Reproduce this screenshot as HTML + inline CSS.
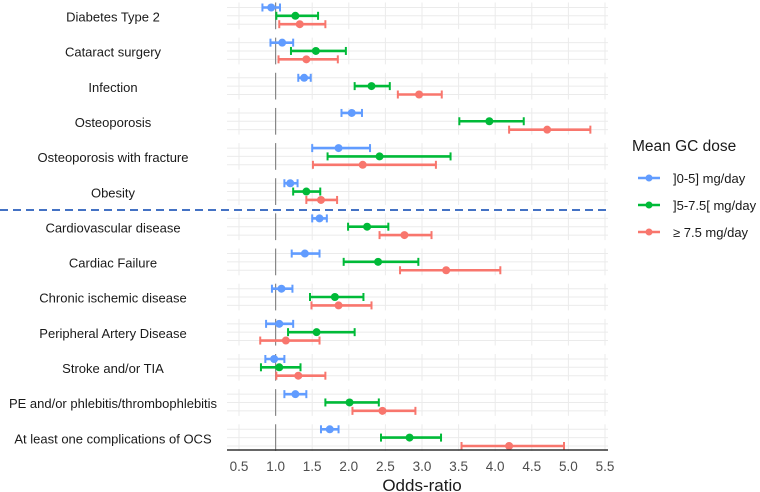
<!DOCTYPE html>
<html><head><meta charset="utf-8"><style>
body{margin:0;background:#fff;}
svg{display:block;font-family:"Liberation Sans",Arial,sans-serif;}
</style></head><body>
<svg id="chart" width="760" height="492" viewBox="0 0 760 492"></svg>
<script>
const categories=["Diabetes Type 2","Cataract surgery","Infection","Osteoporosis","Osteoporosis with fracture","Obesity","Cardiovascular disease","Cardiac Failure","Chronic ischemic disease","Peripheral Artery Disease","Stroke and/or TIA","PE and/or phlebitis/thrombophlebitis","At least one complications of OCS"];
const seriesNames=["]0-5] mg/day","]5-7.5[ mg/day","\u2265 7.5 mg/day"];
const bluePt=[0.94,1.09,1.39,2.04,1.86,1.20,1.60,1.40,1.08,1.05,0.98,1.27,1.74];
const blueLo=[0.82,0.93,1.31,1.90,1.50,1.12,1.50,1.22,0.95,0.87,0.86,1.12,1.62];
const blueHi=[1.06,1.24,1.48,2.18,2.29,1.30,1.70,1.60,1.23,1.24,1.12,1.42,1.86];
const greenPt=[1.27,1.55,2.31,3.92,2.42,1.42,2.25,2.40,1.81,1.56,1.05,2.01,2.83];
const greenLo=[1.01,1.21,2.08,3.51,1.71,1.24,1.99,1.93,1.47,1.17,0.80,1.68,2.44];
const greenHi=[1.58,1.96,2.56,4.39,3.39,1.61,2.54,2.95,2.20,2.08,1.34,2.41,3.26];
const redPt=[1.33,1.42,2.96,4.71,2.19,1.62,2.76,3.33,1.86,1.14,1.31,2.46,4.19];
const redLo=[1.05,1.04,2.67,4.19,1.51,1.42,2.42,2.70,1.49,0.79,1.01,2.05,3.54];
const redHi=[1.68,1.85,3.27,5.30,3.19,1.84,3.13,4.07,2.31,1.60,1.68,2.91,4.94];
const xTicks=[0.5,1.0,1.5,2.0,2.5,3.0,3.5,4.0,4.5,5.0,5.5];
const refValue=1.0;

const NS="http://www.w3.org/2000/svg";
const svg=document.getElementById('chart');
const colors=["#619CFF","#00BA38","#F8766D"];
const xScale=v=>239+(v-0.5)*73.2;
const rowY=i=>7.5+i*35.15;
const offs=[0,8.3,16.7];
function mk(tag,attrs,parent){const e=document.createElementNS(NS,tag);for(const k in attrs)e.setAttribute(k,attrs[k]);(parent||svg).appendChild(e);return e;}

const left=227,right=608;
categories.forEach((c,i)=>{
  const g=mk('g',{});
  
  
  const top=rowY(i)-5,bot=rowY(i)+offs[2]+5;
  xTicks.forEach(t=>{const l=mk('line',{x1:xScale(t),x2:xScale(t),y1:top,y2:bot,stroke:'#ebebeb','stroke-width':1},g);
    });
  offs.forEach(o=>{const l=mk('line',{x1:left,x2:right,y1:rowY(i)+o,y2:rowY(i)+o,stroke:'#ebebeb','stroke-width':1},g);
    });
  const r=mk('line',{x1:xScale(refValue),x2:xScale(refValue),y1:top,y2:bot,stroke:'#888','stroke-width':1.2},g);
  
  const t=mk('text',{x:113,y:rowY(i)+14,'text-anchor':'middle','font-size':13,fill:'#1a1a1a'},g);
  t.textContent=c;
  
});
const sets=[[bluePt,blueLo,blueHi],[greenPt,greenLo,greenHi],[redPt,redLo,redHi]];
sets.forEach((s,si)=>{
  categories.forEach((c,i)=>{
    const y=rowY(i)+offs[si];
    const g=mk('g',{});
    
    
    const x1=xScale(s[1][i]),x2=xScale(s[2][i]);
    mk('line',{x1:x1,x2:x2,y1:y,y2:y,stroke:colors[si],'stroke-width':2.6},g);
    mk('line',{x1:x1,x2:x1,y1:y-4,y2:y+4,stroke:colors[si],'stroke-width':2},g);
    mk('line',{x1:x2,x2:x2,y1:y-4,y2:y+4,stroke:colors[si],'stroke-width':2},g);
    const p=mk('circle',{cx:xScale(s[0][i]),cy:y,r:4,fill:colors[si]},g);
    
    
  });
});
const dash=mk('line',{x1:0,x2:610,y1:210,y2:210,stroke:'#4472C4','stroke-width':2,'stroke-dasharray':'8,5'});

const ax=mk('line',{x1:left,x2:right,y1:450,y2:450,stroke:'#333','stroke-width':1.5});

xTicks.forEach(t=>{const e=mk('text',{x:xScale(t),y:471,'text-anchor':'middle','font-size':13.5,fill:'#4d4d4d'});
  e.textContent=t.toFixed(1);});
const xt=mk('text',{x:422,y:491,'text-anchor':'middle','font-size':17,fill:'#1a1a1a'});
xt.textContent='Odds-ratio';
const lt=mk('text',{x:632,y:151,'font-size':15.5,fill:'#1a1a1a'});
lt.textContent='Mean GC dose';
seriesNames.forEach((n,k)=>{
  const y=178+k*27;
  const g=mk('g',{});
  
  
  mk('line',{x1:638,x2:660,y1:y,y2:y,stroke:colors[k],'stroke-width':2.4},g);
  mk('circle',{cx:649,cy:y,r:3.5,fill:colors[k]},g);
  const t=mk('text',{x:673,y:y+5,'font-size':13,fill:'#1a1a1a'},g);t.textContent=n;
});
</script>
</body></html>
